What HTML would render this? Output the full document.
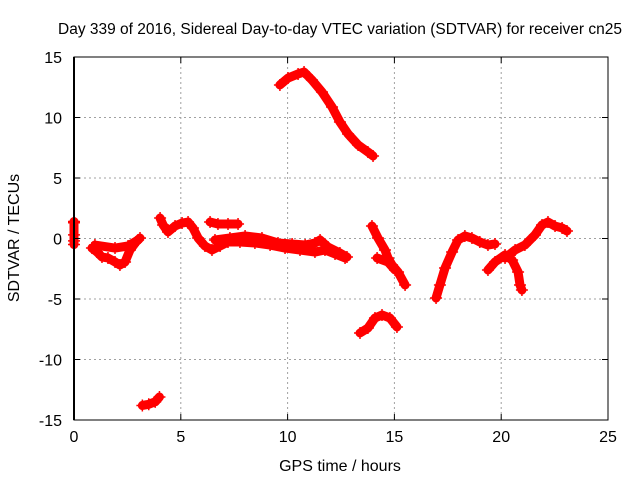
<!DOCTYPE html>
<html><head><meta charset="utf-8"><style>
body{margin:0;background:#fff}
svg{display:block;font-family:"Liberation Sans",sans-serif}
</style></head><body>
<svg id="chart" width="640" height="480">
<text x="340" y="34" text-anchor="middle" font-size="15.5">Day 339 of 2016, Sidereal Day-to-day VTEC variation (SDTVAR) for receiver cn25</text>
<text x="340" y="471" text-anchor="middle" font-size="16">GPS time / hours</text>
<text transform="translate(19,238) rotate(-90)" text-anchor="middle" font-size="16">SDTVAR / TECUs</text>
<g id="grid"></g><g id="marks"></g><g id="axes"></g>
</svg>
<script>
const xTicks=[0,5,10,15,20,25];
const yTicks=[-15,-10,-5,0,5,10,15];
const t0h=[0,0,0,0,0];
const t0v=[1.4,1.3,0.3,-0.2,-0.5];
const t1h=[0.84,1.08,1.31,1.59,1.92,2.15,2.39,2.62,2.90,3.09];
const t1v=[-0.79,-1.12,-1.53,-1.61,-1.94,-2.19,-1.94,-0.95,-0.29,0.04];
const t1bh=[0.98,1.92,2.53,3.0];
const t1bv=[-0.54,-0.79,-0.62,-0.12];
const t2h=[3.2,3.5,3.8,4.0];
const t2v=[-13.8,-13.7,-13.5,-13.1];
const t3h=[4.03,4.17,4.40,4.73,5.06,5.34,5.57,5.81,6.13,6.46,6.84,7.21,7.77,8.47,9.18,9.88,10.58,11.28,11.75,12.22,12.69];
const t3v=[1.69,1.12,0.54,1.03,1.28,1.36,0.87,0.04,-0.62,-0.95,-0.62,-0.29,-0.29,-0.37,-0.54,-0.79,-0.95,-1.12,-0.95,-1.28,-1.61];
const t3bh=[6.37,6.74,7.21,7.68];
const t3bv=[1.36,1.2,1.2,1.2];
const t3ch=[6.6,7.3,8.01,8.8,9.55,10.21,10.82,11.28,11.52,11.89,12.45,12.78];
const t3cv=[-0.12,0.04,0.21,0.04,-0.37,-0.45,-0.54,-0.37,-0.12,-0.7,-1.2,-1.53];
const t4h=[9.64,10.02,10.49,10.77,11.14,11.61,12.08,12.45,12.83,13.3,13.76,14.0];
const t4v=[12.69,13.26,13.6,13.76,13.1,12.11,10.87,9.63,8.64,7.73,7.15,6.82];
const t5h=[13.95,14.23,14.56,14.7,14.89,15.17,15.5];
const t5v=[1.03,0.04,-0.95,-1.61,-2.19,-2.77,-3.84];
const t5bh=[14.19,14.7,15.03];
const t5bv=[-1.61,-1.94,-2.6];
const t6h=[13.39,13.76,14.09,14.42,14.79,15.12];
const t6v=[-7.81,-7.4,-6.57,-6.32,-6.57,-7.31];
const t7h=[16.95,17.13,17.37,17.7,17.98,18.3,18.63,19.0,19.38,19.71];
const t7v=[-4.92,-3.84,-2.44,-1.12,-0.12,0.21,0.04,-0.29,-0.54,-0.45];
const t8h=[19.38,19.71,20.18,20.51,20.79,20.88,20.97];
const t8v=[-2.6,-1.94,-1.36,-1.78,-2.77,-3.84,-4.26];
const t9h=[20.18,20.65,21.11,21.58,21.91,22.19,22.52,22.85,23.08];
const t9v=[-1.61,-0.95,-0.54,0.29,1.12,1.36,1.03,0.87,0.62];
const tracks=[[t0h,t0v],[t1h,t1v],[t1bh,t1bv],[t2h,t2v],[t3h,t3v],[t3bh,t3bv],[t3ch,t3cv],[t4h,t4v],[t5h,t5v],[t5bh,t5bv],[t6h,t6v],[t7h,t7v],[t8h,t8v],[t9h,t9v]];
const L=74,R=608,T=57,B=420;
const xs=h=>L+(h-0)/25*(R-L);
const ys=v=>B-(v+15)/30*(B-T);
const NS="http://www.w3.org/2000/svg";
function mk(tag,parent,attrs){const e=document.createElementNS(NS,tag);for(const k in attrs)e.setAttribute(k,attrs[k]);parent.appendChild(e);return e;}
const grid=document.getElementById('grid'),axes=document.getElementById('axes'),marks=document.getElementById('marks');
xTicks.forEach(t=>{const x=xs(t);
 if(t>0&&t<25){const g=mk('line',grid,{x1:x,x2:x,y1:T,y2:B,stroke:'#a0a0a0','stroke-dasharray':'2,3'});
 
 }
 const tx=mk('text',axes,{x:x,y:B+22,'text-anchor':'middle','font-size':16});tx.textContent=t;
 
 
 mk('line',axes,{x1:x,x2:x,y1:B,y2:B-6,stroke:'#000'});mk('line',axes,{x1:x,x2:x,y1:T,y2:T+6,stroke:'#000'});
});
yTicks.forEach(t=>{const y=ys(t);
 if(t>-15&&t<15){const g=mk('line',grid,{x1:L,x2:R,y1:y,y2:y,stroke:'#a0a0a0','stroke-dasharray':'2,3'});
 
 }
 const tx=mk('text',axes,{x:L-12,y:y+6,'text-anchor':'end','font-size':16});tx.textContent=t;
 
 
 mk('line',axes,{x1:L,x2:L+6,y1:y,y2:y,stroke:'#000'});mk('line',axes,{x1:R,x2:R-6,y1:y,y2:y,stroke:'#000'});
});
const fr=mk('rect',axes,{x:L,y:T,width:R-L,height:B-T,fill:'none',stroke:'#000'});


mk('line',axes,{x1:L,x2:L,y1:T,y2:B,stroke:'#000','stroke-width':2});
tracks.forEach(([hs,vs])=>{
 const pts=hs.map((h,i)=>xs(h)+','+ys(vs[i])).join(' ');
 const pl=mk('polyline',marks,{points:pts,fill:'none',stroke:'#f00','stroke-width':9,'stroke-linejoin':'round','stroke-linecap':'round'});
 
 
 hs.forEach((h,i)=>{const x=xs(h),y=ys(vs[i]);
  const p=mk('path',marks,{d:`M${x-6},${y}h12M${x},${y-6}v12`,stroke:'#f00','stroke-width':1.5});
  
  
 });
});
</script>
</body></html>
